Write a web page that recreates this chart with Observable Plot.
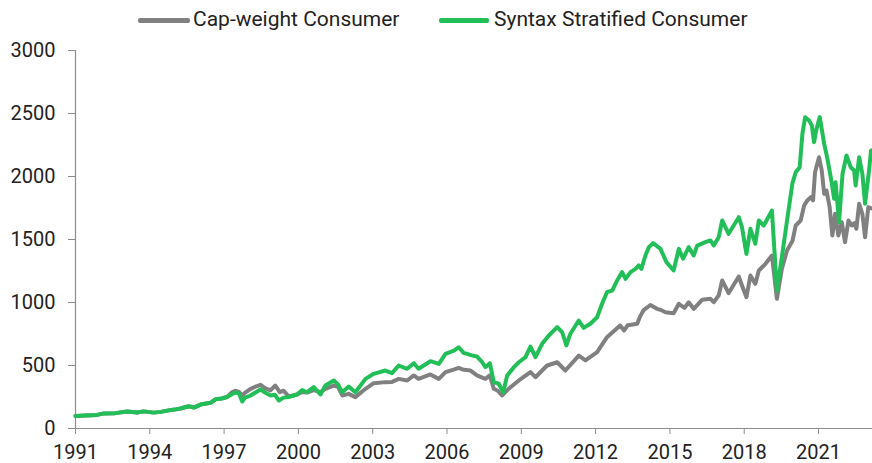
<!DOCTYPE html>
<html>
<head>
<meta charset="utf-8">
<script src="https://cdn.jsdelivr.net/npm/d3@7"></script>
<script src="https://cdn.jsdelivr.net/npm/@observablehq/plot@0.6"></script>
<style>
  html, body { margin: 0; padding: 0; background: #fff; }
  body { width: 872px; height: 463px; overflow: hidden; font-family: Roboto, "Noto Sans", sans-serif; }
  #legend { position: relative; width: 872px; height: 36px; }
  .sw { position: absolute; top: 18px; height: 5px; border-radius: 2px; }
  .lt { position: absolute; top: 7px; font-size: 21px; line-height: 24px; color: #222; white-space: nowrap; }
  #chart svg { display: block; }
  #chart [aria-label$="tick"] path { stroke: #8c8c8c; }
</style>
</head>
<body>
<div id="legend"></div>
<div id="chart"></div>
<script>
const seriesNames = ["Cap-weight Consumer", "Syntax Stratified Consumer"];
const seriesColors = ["#808080", "#22bf58"];

const xTicks = [1991, 1994, 1997, 2000, 2003, 2006, 2009, 2012, 2015, 2018, 2021];
const yTicks = [0, 500, 1000, 1500, 2000, 2500, 3000];

// Shared early history (both series overlap)
const earlyYears = [1991.0, 1991.4, 1991.87, 1992.15, 1992.6, 1993.09, 1993.49, 1993.76, 1994.16, 1994.45, 1994.7, 1995.0, 1995.24, 1995.57, 1995.78, 1996.05, 1996.45, 1996.65, 1996.9, 1997.12];
const earlyValues = [100, 104, 108, 120, 122, 135, 127, 136, 126, 132, 142, 150, 159, 177, 166, 190, 204, 232, 238, 250];

const capYears = [1997.3, 1997.45, 1997.6, 1997.73, 1997.85, 1998.07, 1998.3, 1998.47, 1998.65, 1998.87, 1999.07, 1999.25, 1999.4, 1999.61, 1999.8, 1999.95, 2000.15, 2000.35, 2000.62, 2000.89, 2001.09, 2001.43, 2001.6, 2001.77, 2002.03, 2002.3, 2002.71, 2003.04, 2003.51, 2003.78, 2004.05, 2004.39, 2004.66, 2004.85, 2005.33, 2005.67, 2005.94, 2006.3, 2006.47, 2006.68, 2006.95, 2007.21, 2007.55, 2007.73, 2007.89, 2008.05, 2008.22, 2008.49, 2008.9, 2009.37, 2009.57, 2010.04, 2010.45, 2010.78, 2011.32, 2011.59, 2012.06, 2012.46, 2012.99, 2013.15, 2013.3, 2013.68, 2013.8, 2013.94, 2014.21, 2014.48, 2014.62, 2014.82, 2015.15, 2015.36, 2015.59, 2015.76, 2015.96, 2016.3, 2016.64, 2016.77, 2016.97, 2017.11, 2017.37, 2017.78, 2017.91, 2018.09, 2018.25, 2018.45, 2018.59, 2018.86, 2019.12, 2019.32, 2019.52, 2019.73, 2019.95, 2020.08, 2020.28, 2020.42, 2020.55, 2020.69, 2020.78, 2020.86, 2021.02, 2021.13, 2021.23, 2021.32, 2021.45, 2021.56, 2021.67, 2021.8, 2021.94, 2022.07, 2022.21, 2022.34, 2022.45, 2022.53, 2022.64, 2022.77, 2022.88, 2023.01, 2023.18];
const capValues = [285, 300, 290, 262, 285, 315, 335, 347, 320, 302, 341, 288, 300, 254, 262, 270, 290, 285, 305, 288, 315, 341, 330, 262, 275, 249, 315, 360, 368, 370, 394, 381, 421, 394, 429, 394, 447, 470, 482, 466, 460, 421, 394, 421, 315, 300, 262, 315, 381, 447, 407, 500, 526, 460, 579, 540, 606, 725, 817, 778, 820, 831, 890, 940, 980, 950, 942, 923, 915, 990, 958, 1002, 950, 1021, 1029, 1002, 1056, 1175, 1074, 1206, 1135, 1042, 1214, 1148, 1254, 1307, 1373, 1029, 1267, 1413, 1490, 1611, 1651, 1770, 1810, 1836, 1810, 2034, 2153, 2048, 1862, 1889, 1757, 1532, 1704, 1532, 1637, 1479, 1651, 1611, 1630, 1585, 1783, 1704, 1518, 1757, 1744];

const synYears = [1997.3, 1997.45, 1997.6, 1997.73, 1997.85, 1998.07, 1998.3, 1998.47, 1998.65, 1998.87, 1999.05, 1999.21, 1999.4, 1999.61, 1999.8, 1999.95, 2000.15, 2000.35, 2000.62, 2000.89, 2001.09, 2001.43, 2001.6, 2001.77, 2002.03, 2002.3, 2002.71, 2003.04, 2003.51, 2003.78, 2004.05, 2004.39, 2004.66, 2004.85, 2005.33, 2005.67, 2005.94, 2006.3, 2006.47, 2006.68, 2006.81, 2007.0, 2007.21, 2007.42, 2007.55, 2007.73, 2007.89, 2008.09, 2008.27, 2008.43, 2008.7, 2008.9, 2009.17, 2009.37, 2009.57, 2009.84, 2010.11, 2010.45, 2010.65, 2010.82, 2010.98, 2011.32, 2011.52, 2011.79, 2012.06, 2012.26, 2012.46, 2012.67, 2012.87, 2013.07, 2013.21, 2013.41, 2013.61, 2013.74, 2013.85, 2014.01, 2014.15, 2014.32, 2014.62, 2014.86, 2015.15, 2015.36, 2015.53, 2015.76, 2015.96, 2016.1, 2016.43, 2016.64, 2016.77, 2016.97, 2017.11, 2017.37, 2017.78, 2017.91, 2018.09, 2018.25, 2018.45, 2018.59, 2018.79, 2019.12, 2019.32, 2019.52, 2019.73, 2019.95, 2020.08, 2020.24, 2020.35, 2020.46, 2020.62, 2020.73, 2020.82, 2020.92, 2021.05, 2021.23, 2021.36, 2021.53, 2021.63, 2021.69, 2021.83, 2021.97, 2022.13, 2022.3, 2022.44, 2022.5, 2022.64, 2022.77, 2022.88, 2023.04, 2023.12, 2023.18];
const synValues = [270, 285, 280, 214, 245, 262, 290, 310, 285, 262, 268, 222, 245, 250, 262, 270, 305, 288, 328, 270, 341, 381, 350, 288, 333, 288, 394, 434, 460, 439, 500, 474, 518, 474, 534, 513, 593, 620, 645, 598, 593, 580, 571, 526, 487, 518, 368, 355, 288, 421, 487, 526, 566, 651, 566, 672, 738, 804, 764, 659, 752, 857, 799, 831, 883, 990, 1082, 1095, 1175, 1241, 1188, 1241, 1267, 1294, 1267, 1373, 1439, 1471, 1426, 1320, 1254, 1426, 1347, 1439, 1373, 1452, 1479, 1492, 1452, 1518, 1651, 1545, 1677, 1598, 1386, 1585, 1466, 1651, 1611, 1730, 1095, 1360, 1651, 1950, 2034, 2074, 2339, 2471, 2444, 2405, 2272, 2378, 2471, 2259, 2140, 1955, 1823, 1955, 1637, 2021, 2167, 2074, 2048, 1929, 2153, 2021, 1783, 2048, 2206, 2210];

// Legend
const legend = document.getElementById("legend");
const legendLayout = [{sw: 138, w: 52, tx: 193}, {sw: 439, w: 50, tx: 494}];
seriesNames.forEach((name, i) => {
  const s = document.createElement("div");
  s.className = "sw";
  s.style.left = legendLayout[i].sw + "px";
  s.style.width = legendLayout[i].w + "px";
  s.style.background = seriesColors[i];
  legend.appendChild(s);
  const t = document.createElement("div");
  t.className = "lt";
  t.style.left = legendLayout[i].tx + "px";
  t.textContent = name;
  legend.appendChild(t);
});

const early = earlyYears.map((y, i) => ({year: y, value: earlyValues[i]}));
const capData = early.concat(capYears.map((y, i) => ({year: y, value: capValues[i]})));
const synData = early.concat(synYears.map((y, i) => ({year: y, value: synValues[i]})));

const chart = Plot.plot({
  width: 872,
  height: 427,
  marginLeft: 75,
  marginRight: 0,
  marginTop: 14,
  marginBottom: 35,
  style: {fontFamily: "Roboto, 'Noto Sans', sans-serif", fontSize: "20px", color: "#222", background: "#fff", overflow: "visible"},
  x: {domain: [1991, 2023.18], axis: null},
  y: {domain: [0, 3000], axis: null},
  marks: [
    Plot.axisX({ticks: xTicks, tickFormat: d => String(d), label: null, tickSize: 6, tickPadding: 10, fontSize: 20, stroke: "#8c8c8c", fill: "#222"}),
    Plot.axisY({ticks: yTicks, tickFormat: d => String(d), label: null, tickSize: 7, tickPadding: 13, fontSize: 20, stroke: "#8c8c8c", fill: "#222"}),
    Plot.ruleX([1991], {y1: 0, y2: 3000, stroke: "#8c8c8c", strokeWidth: 1.2}),
    Plot.ruleY([0], {stroke: "#8c8c8c", strokeWidth: 1.2}),
    Plot.line(capData, {x: "year", y: "value", stroke: seriesColors[0], strokeWidth: 4, strokeLinejoin: "round", strokeLinecap: "round"}),
    Plot.line(synData, {x: "year", y: "value", stroke: seriesColors[1], strokeWidth: 4, strokeLinejoin: "round", strokeLinecap: "round"})
  ]
});
document.getElementById("chart").appendChild(chart);
</script>
</body>
</html>
